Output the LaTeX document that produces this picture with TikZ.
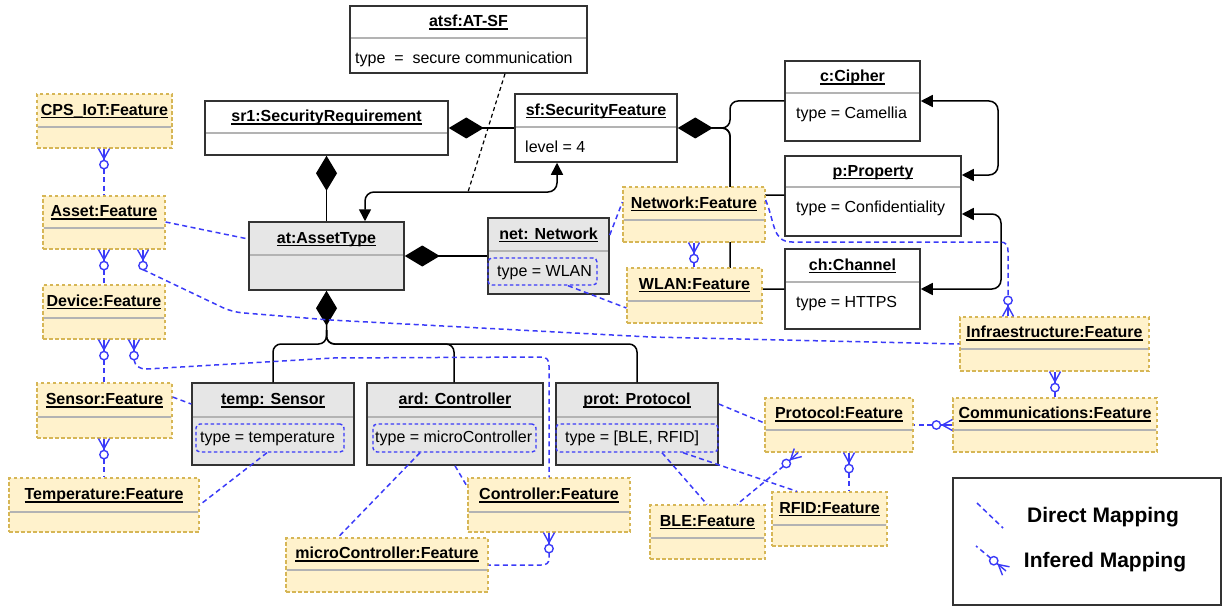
\documentclass[tikz,border=0pt]{standalone}
\usepackage{fontspec}
\setmainfont{Liberation Sans}
\usetikzlibrary{arrows.meta,fit}

\definecolor{featfill}{HTML}{FFF2CC}
\definecolor{featdraw}{HTML}{D6B656}
\definecolor{mapblue}{HTML}{3B3BF8}
\definecolor{objgray}{HTML}{E6E6E6}
\definecolor{sepgray}{HTML}{B3B3B3}
\definecolor{edgegray}{HTML}{333333}

\newcommand\dfont{\fontsize{16}{19}\selectfont}
% underlined title with a firmer rule
\newcommand\ultitle[1]{{\setbox0\hbox{#1}\rlap{\rule[-2.8pt]{\wd0}{1.2pt}}\box0}}

\tikzset{
  obj/.style={draw=edgegray, line width=1.5pt, fill=white, inner sep=0pt},
  objg/.style={obj, fill=objgray},
  feat/.style={draw=featdraw, line width=1.2pt, dash pattern=on 3.5pt off 2.5pt, fill=featfill, inner sep=0pt},
  sepline/.style={draw=sepgray, line width=1.4pt},
  ttl/.style={font=\dfont\bfseries, inner sep=0pt, text height=11.5pt, text depth=0pt},
  attr/.style={font=\dfont, inner sep=0pt, anchor=west, text height=11.5pt, text depth=0pt},
  attrbox/.style={draw=mapblue, line width=1.4pt, dash pattern=on 3.5pt off 2.5pt, rounded corners=4pt, inner sep=0pt},
  direct/.style={draw=mapblue, line width=1.5pt, dash pattern=on 5pt off 3.5pt},
  crowline/.style={draw=mapblue, line width=1.4pt, solid},
  conn/.style={draw=black, line width=1.5pt},
  comp/.style={conn, {Diamond[length=35pt,width=21pt]}-},
  nav/.style={conn, {Triangle[length=12pt,width=12pt]}-{Triangle[length=12pt,width=12pt]}, rounded corners=9pt},
  legtxt/.style={font=\fontsize{21}{25}\selectfont\bfseries, inner sep=0pt, text height=15pt, text depth=0pt},
}

% object box: style, name, x1, y1, x2, y2, separator y, title
\newcommand\umlbox[8]{%
  \node[#1, fit={(#3,#4)(#5,#6)}] (#2) {};
  \draw[sepline] ({#3+0.8},#7) -- ({#5-0.8},#7);
  \node[ttl] (#2-title) at ({(#3+#5)/2},{(#4+#7)/2-1}) {\ultitle{#8}};
}

% zero-or-many end: point on the box edge, direction pointing away from the box
\newcommand\crowend[2]{%
  \draw[crowline] ([shift={({#2+90}:5.5)}]#1) -- ([shift={(#2:10)}]#1) -- ([shift={({#2-90}:5.5)}]#1);
  \draw[crowline] (#1) -- ([shift={(#2:12)}]#1);
  \draw[crowline] ([shift={(#2:16)}]#1) circle[radius=4.2pt];
}

\begin{document}
\begin{tikzpicture}[x=1pt,y=-1pt]
\useasboundingbox (0,0) rectangle (1223,607);

% ---------- object boxes ----------
\umlbox{obj}{atsf}{350}{6}{587}{73}{38}{atsf:AT-SF}
\node[attr] (atsf-a) at (355,58) {type\ \ =\ \ secure communication};
\umlbox{obj}{sr1}{205}{101}{448}{155}{133}{sr1:SecurityRequirement}
\umlbox{obj}{sf}{515}{94}{677}{162}{127}{sf:SecurityFeature}
\node[attr] (sf-a) at (525,147) {level = 4};
\umlbox{obj}{c}{785}{61}{920}{141}{93}{c:Cipher}
\node[attr] (c-a) at (796,113) {type = Camellia};
\umlbox{obj}{p}{785}{156}{961}{236}{187}{p:Property}
\node[attr] (p-a) at (796,207) {type = Confidentiality};
\umlbox{obj}{ch}{785}{249}{920}{329}{282}{ch:Channel}
\node[attr] (ch-a) at (796,302) {type = HTTPS};

\umlbox{objg}{at}{249}{222}{404}{290}{255}{at:AssetType}
\umlbox{objg}{net}{488}{218}{609}{294}{251}{net: Network}
\node[attrbox, fit={(488,258)(597,285)}] (netattr) {};
\node[attr] (net-a) at (497,271) {type = WLAN};
\umlbox{objg}{temp}{192}{383}{354}{465}{417}{temp: Sensor}
\node[attrbox, fit={(196,424)(344,452)}] (tempattr) {};
\node[attr] (temp-a) at (200,437) {type = temperature};
\umlbox{objg}{ard}{367}{383}{543}{465}{417}{ard: Controller}
\node[attrbox, fit={(373,424)(536,452)}] (ardattr) {};
\node[attr] (ard-a) at (375,437) {type = microController};
\umlbox{objg}{prot}{556}{383}{718}{465}{417}{prot: Protocol}
\node[attrbox, fit={(556,424)(718,452)}] (protattr) {};
\node[attr] (prot-a) at (565,437) {type = [BLE, RFID]};

% ---------- black associations ----------
\draw[comp] (sr1.south) -- (at.north);
\draw[comp] (sr1.east) -- (sf.west);
\draw[comp] (at.east) -- (net.west);
\draw[comp, rounded corners=8pt] (at.south) -- (326.5,344) -- (273,344) -- (273,0 |- temp.north);
\draw[conn, rounded corners=8pt] (326.5,330) -- (326.5,344) -- (454,344) -- (454,0 |- ard.north);
\draw[conn, rounded corners=8pt] (326.5,330) -- (326.5,344) -- (637,344) -- (637,0 |- prot.north);

\draw[comp, rounded corners=8pt] (sf.east) -- (730,128) -- (730,101) -- (c.west);
\draw[conn, rounded corners=8pt] (712,128) -- (730,128) -- (730,195) -- (p.west |- 0,195);
\draw[conn, rounded corners=8pt] (712,128) -- (730,128) -- (730,289) -- (ch.west);

\draw[nav] (557,0 |- sf.south) -- (557,192) -- (365,192) -- (365,0 |- at.north);
\draw[nav] (c.east) -- (998,101) -- (998,175) -- (p.east |- 0,175);
\draw[nav] (p.east |- 0,214) -- (1001,214) -- (1001,289) -- (ch.east);

\coordinate (assoc) at (468,192);
\draw[conn, line width=1.2pt, dash pattern=on 4pt off 3pt] (505,0 |- atsf.south) -- (assoc);

% ---------- feature boxes ----------
\umlbox{feat}{cps}{37}{94}{172}{148}{127}{CPS\_IoT:Feature}
\umlbox{feat}{asset}{43}{196}{165}{249}{228}{Asset:Feature}
\umlbox{feat}{device}{43}{285}{165}{339}{318}{Device:Feature}
\umlbox{feat}{sensor}{37}{383}{172}{438}{417}{Sensor:Feature}
\umlbox{feat}{tempf}{9}{478}{199}{532}{512}{Temperature:Feature}
\umlbox{feat}{ctrlf}{468}{478}{630}{532}{512}{Controller:Feature}
\umlbox{feat}{microf}{286}{538}{488}{592}{570}{microController:Feature}
\umlbox{feat}{netf}{623}{187}{765}{242}{220}{Network:Feature}
\umlbox{feat}{wlanf}{627}{268}{762}{323}{301}{WLAN:Feature}
\umlbox{feat}{infraf}{960}{317}{1149}{371}{349}{Infraestructure:Feature}
\umlbox{feat}{protf}{765}{398}{913}{452}{430}{Protocol:Feature}
\umlbox{feat}{commf}{953}{398}{1157}{452}{430}{Communications:Feature}
\umlbox{feat}{blef}{650}{505}{765}{559}{538}{BLE:Feature}
\umlbox{feat}{rfidf}{772}{492}{887}{546}{525}{RFID:Feature}

% ---------- direct mappings ----------
\draw[direct] (asset.east |- 0,222) -- (at.west |- 0,239);
\draw[direct] (net.east |- 0,235) -- (netf.west |- 0,202);
\draw[direct] (568,0 |- netattr.south) -- (wlanf.west |- 0,308);
\draw[direct] (sensor.east |- 0,397) -- (temp.west |- 0,404);
\draw[direct] (267,0 |- tempattr.south) -- (tempf.east |- 0,505);
\draw[direct] (455,0 |- ard.south) -- (ctrlf.west |- 0,487);
\draw[direct] (420,0 |- ardattr.south) -- (338,0 |- microf.north);
\draw[direct] (prot.east |- 0,404) -- (protf.west |- 0,423);
\draw[direct] (662,0 |- protattr.south) -- (707,0 |- blef.north);
\draw[direct] (683,0 |- protattr.south) -- (797,0 |- rfidf.north);

% ---------- inferred mappings ----------
\coordinate (k1) at (104,0 |- cps.south);
\crowend{k1}{90}
\draw[direct] ([shift={(90:20)}]k1) -- (104,0 |- asset.north);

\coordinate (k2) at (104,0 |- asset.south);
\crowend{k2}{90}
\draw[direct] ([shift={(90:20)}]k2) -- (104,0 |- device.north);

\coordinate (k3) at (143,0 |- asset.south);
\crowend{k3}{90}
\draw[direct, rounded corners=10pt] ([shift={(90:20)}]k3) -- (232,312) -- (330,320) -- (650,337) -- (infraf.west);

\coordinate (k4) at (104,0 |- device.south);
\crowend{k4}{90}
\draw[direct] ([shift={(90:20)}]k4) -- (104,0 |- sensor.north);

\coordinate (k5) at (134,0 |- device.south);
\crowend{k5}{90}
\draw[direct] ([shift={(90:20)}]k5) .. controls (135,366) and (139,369) .. (147,369) -- (333,358) -- (541,357) .. controls (547,357) and (549,360) .. (549,366) -- (549,0 |- ctrlf.north);

\coordinate (k6) at (104,0 |- sensor.south);
\crowend{k6}{90}
\draw[direct] ([shift={(90:20)}]k6) -- (104,0 |- tempf.north);

\coordinate (k7) at (549,0 |- ctrlf.south);
\crowend{k7}{90}
\draw[direct] ([shift={(90:20)}]k7) -- (549,558) .. controls (549,563) and (547,565) .. (541,565) -- (microf.east);

\coordinate (k8) at (694,0 |- netf.south);
\crowend{k8}{90}
\draw[direct] ([shift={(90:20)}]k8) -- (694,0 |- wlanf.north);

\coordinate (k9) at (1008,0 |- infraf.north);
\crowend{k9}{270}
\draw[direct] (netf.east |- 0,200) .. controls (775,222) and (772,242) .. (792,242) -- (1000,242) .. controls (1006,242) and (1008,245) .. (1008,251) -- ([shift={(270:20)}]k9);

\coordinate (k10) at (1055,0 |- infraf.south);
\crowend{k10}{90}
\draw[direct] ([shift={(90:20)}]k10) -- (1055,0 |- commf.north);

\coordinate (k11) at (commf.west);
\crowend{k11}{180}
\draw[direct] ([shift={(180:20)}]k11) -- (protf.east);

\coordinate (k12) at (849,0 |- protf.south);
\crowend{k12}{90}
\draw[direct] ([shift={(90:20)}]k12) -- (849,0 |- rfidf.north);

\coordinate (k13) at (798,0 |- protf.south);
\crowend{k13}{137}
\draw[direct] ([shift={(137:20)}]k13) -- (737,0 |- blef.north);

% ---------- legend ----------
\node[obj, fit={(953,478)(1221,605)}] (legend) {};
\coordinate (ld1) at (977,503);
\coordinate (ld2) at (1003,528);
\draw[direct] (ld1) -- (ld2);
\node[legtxt] (ld-text) at (1103,515) {Direct Mapping};
\coordinate (li1) at (976,546);
\coordinate (li2) at (1006,571);
\crowend{li2}{220}
\draw[direct] ([shift={(220:20)}]li2) -- (li1);
\node[legtxt] (li-text) at (1105,560) {Infered Mapping};
\end{tikzpicture}
\end{document}
